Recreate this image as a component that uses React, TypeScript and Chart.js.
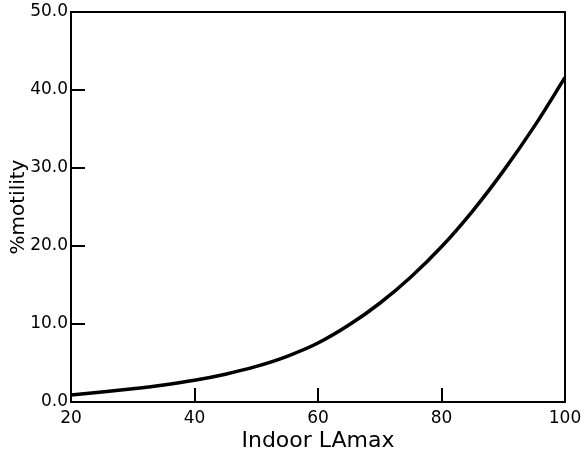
import React, { useEffect, useRef } from "react";
import { Chart, registerables } from "chart.js";

Chart.register(...registerables);

const indoorLAmax = [20, 25, 30, 35, 40, 45, 50, 55, 60, 65, 70, 75, 80, 85, 90, 95, 100];
const motility = [0.9, 1.28, 1.7, 2.18, 2.78, 3.56, 4.56, 5.86, 7.56, 9.86, 12.66, 16.0, 19.9, 24.45, 29.6, 35.3, 41.6];
const xTicks = [20, 40, 60, 80, 100];
const yTicks = [0, 10, 20, 30, 40, 50];
const xTitle = "Indoor LAmax";
const yTitle = "%motility";

const framePlugin = {
  id: "frame",
  afterDraw(chart: any) {
    const { ctx, chartArea } = chart;
    ctx.save();
    ctx.strokeStyle = "#000";
    ctx.lineWidth = 2;
    ctx.strokeRect(chartArea.left, chartArea.top, chartArea.right - chartArea.left, chartArea.bottom - chartArea.top);
    ctx.restore();
  },
};

const zeroPad = (s: any) => {
  s.paddingTop = 0;
  s.paddingBottom = 0;
  s.paddingLeft = 0;
  s.paddingRight = 0;
};

export default function App() {
  const ref = useRef<HTMLCanvasElement | null>(null);
  useEffect(() => {
    document.body.style.margin = "0";
    const font = "'DejaVu Sans', sans-serif";
    const chart = new Chart(ref.current as HTMLCanvasElement, {
      type: "line",
      data: {
        datasets: [
          {
            data: indoorLAmax.map((x, i) => ({ x, y: motility[i] })),
            borderColor: "#000",
            borderWidth: 3.5,
            pointRadius: 0,
            cubicInterpolationMode: "monotone",
            fill: false,
          },
        ],
      },
      options: {
        animation: false,
        responsive: false,
        maintainAspectRatio: false,
        layout: { padding: { left: 0, top: 12, right: 20, bottom: 0 } },
        plugins: { legend: { display: false }, tooltip: { enabled: false } },
        scales: {
          x: {
            type: "linear",
            min: xTicks[0],
            max: xTicks[xTicks.length - 1],
            afterBuildTicks: (s: any) => {
              s.ticks = xTicks.map((v) => ({ value: v }));
            },
            afterFit: (s: any) => {
              s.height = 54;
              zeroPad(s);
            },
            grid: { drawOnChartArea: false, tickLength: -14, color: "#000", lineWidth: 2 },
            border: { color: "#000", width: 2 },
            ticks: { color: "#000", font: { family: font, size: 17 }, padding: 20, maxRotation: 0 },
            title: {
              display: true,
              text: xTitle,
              color: "#000",
              font: { family: font, size: 22 },
              padding: { top: 0, bottom: 2 },
            },
          },
          y: {
            type: "linear",
            min: yTicks[0],
            max: yTicks[yTicks.length - 1],
            afterBuildTicks: (s: any) => {
              s.ticks = yTicks.map((v) => ({ value: v }));
            },
            afterFit: (s: any) => {
              s.width = 71;
              zeroPad(s);
            },
            grid: { drawOnChartArea: false, tickLength: -14, color: "#000", lineWidth: 2 },
            border: { color: "#000", width: 2 },
            ticks: {
              color: "#000",
              font: { family: font, size: 17 },
              padding: 17,
              callback: (v: any) => Number(v).toFixed(1),
            },
            title: {
              display: true,
              text: yTitle,
              color: "#000",
              font: { family: font, size: 20 },
              padding: { top: 7, bottom: 0 },
            },
          },
        },
      },
      plugins: [framePlugin],
    });
    return () => chart.destroy();
  }, []);
  return <canvas ref={ref} width={585} height={456} style={{ display: "block" }} />;
}
